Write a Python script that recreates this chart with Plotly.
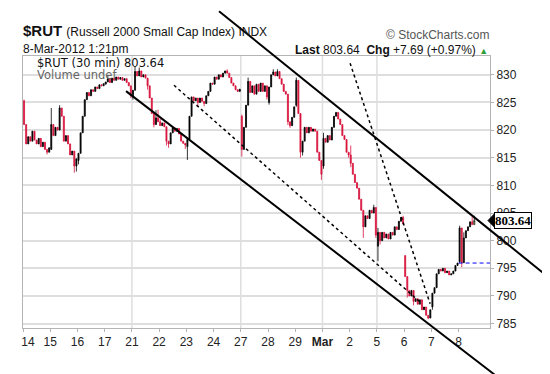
import plotly.graph_objects as go

# ---------------- data (30-minute bars) ----------------
day_labels = ["14", "15", "16", "17", "21", "22", "23", "24", "27", "28",
              "29", "Mar", "2", "5", "6", "7", "8"]
bars_per_day = 13

day_opens = [825.3, 816.5, 814.5, 828.3, 826.0, 821.5, 817.0, 828.3, 822.5,
             825.0, 824.5, 813.5, 815.5, 799.0, 797.3, 788.0, 796.2]

day_closes = [
    [821.0, 817.5, 818.8, 818.0, 819.8, 818.2, 817.5, 818.5, 817.0, 817.8, 816.5, 816.0, 816.8],  # Feb 14
    [821.0, 819.0, 820.5, 820.0, 824.0, 822.5, 818.0, 819.0, 817.5, 815.5, 816.2, 813.5, 814.8],  # Feb 15
    [815.8, 819.5, 822.5, 825.5, 826.8, 826.2, 827.3, 827.0, 827.8, 827.5, 828.2, 828.0, 828.4],  # Feb 16
    [828.7, 829.3, 828.6, 829.4, 829.0, 829.6, 829.2, 829.5, 829.0, 829.3, 828.6, 828.0, 826.2],  # Feb 17
    [827.2, 830.6, 829.8, 830.7, 829.6, 830.0, 829.4, 828.0, 825.8, 823.0, 821.0, 822.2, 821.5],  # Feb 21
    [820.8, 821.3, 820.6, 818.0, 817.5, 819.5, 820.4, 819.8, 820.3, 819.3, 818.0, 817.6, 817.3],  # Feb 22
    [818.3, 822.5, 826.0, 825.3, 825.8, 825.0, 825.8, 825.2, 824.8, 826.2, 827.0, 828.5, 828.3],  # Feb 23
    [829.6, 829.2, 830.0, 829.6, 830.3, 830.7, 830.3, 829.5, 828.5, 828.0, 827.3, 827.0, 827.4],  # Feb 24
    [816.5, 820.5, 824.5, 828.8, 826.8, 828.0, 826.5, 828.3, 827.0, 828.5, 827.0, 828.0, 826.0],  # Feb 27
    [827.8, 830.0, 830.5, 829.8, 830.6, 829.3, 828.3, 827.0, 826.5, 821.5, 820.8, 822.3, 824.2],  # Feb 28
    [829.0, 823.0, 816.0, 818.0, 820.5, 819.5, 820.5, 819.8, 820.2, 819.8, 816.0, 814.5, 812.0],  # Feb 29
    [818.5, 817.8, 819.0, 818.2, 820.5, 822.5, 823.2, 822.0, 821.0, 819.0, 818.3, 816.0, 815.5],  # Mar 1
    [814.0, 812.0, 810.5, 809.5, 807.5, 805.5, 802.5, 804.5, 804.0, 805.5, 805.0, 806.0, 801.0],  # Mar 2
    [801.5, 800.0, 801.5, 800.5, 801.2, 800.3, 801.5, 801.0, 802.5, 802.0, 803.5, 804.2, 803.0],  # Mar 5
    [793.5, 791.0, 790.0, 791.0, 789.0, 789.5, 788.5, 789.3, 787.5, 788.0, 786.5, 786.0, 787.5],  # Mar 6
    [790.5, 791.5, 794.0, 794.8, 794.5, 795.0, 794.2, 794.5, 793.8, 794.0, 794.5, 795.5, 795.95], # Mar 7
    [802.3, 796.0, 800.5, 801.8, 802.5, 803.4, 802.9, 803.64],                                    # Mar 8
]

# wick extremes that reach beyond the bodies: (day, bar) -> price
wick_highs = {(0, 0): 825.5, (1, 0): 824.0, (1, 4): 824.5, (3, 1): 829.8,
              (4, 1): 831.5, (4, 3): 831.3, (4, 11): 823.6, (4, 12): 823.7,
              (5, 0): 822.0, (6, 0): 818.6, (7, 6): 831.0, (8, 0): 822.8,
              (8, 3): 829.5, (9, 2): 831.0, (9, 4): 831.0, (10, 0): 829.5,
              (11, 0): 819.5, (12, 0): 817.2, (12, 11): 806.5, (13, 0): 802.3,
              (13, 12): 804.5, (16, 0): 802.7, (16, 2): 801.5, (16, 6): 804.4,
              (16, 7): 804.5}
wick_lows = {(0, 11): 815.6, (1, 11): 812.3, (1, 12): 812.5, (2, 0): 813.8,
             (3, 12): 825.8, (4, 0): 825.5, (4, 7): 827.3, (4, 10): 820.5,
             (5, 3): 817.2, (5, 4): 816.8, (5, 12): 816.6, (6, 0): 814.6,
             (6, 5): 824.4, (6, 8): 824.3, (8, 0): 815.2, (8, 12): 825.5,
             (9, 0): 824.6, (9, 9): 820.9, (9, 10): 820.4, (10, 0): 824.2,
             (10, 2): 815.0, (10, 3): 815.4, (10, 12): 811.0, (11, 0): 813.0,
             (11, 12): 815.0, (12, 0): 813.3, (12, 6): 800.5, (12, 12): 800.5,
             (13, 0): 796.3, (13, 1): 799.3, (14, 1): 789.7, (14, 4): 788.3,
             (14, 11): 785.8, (15, 0): 787.5, (16, 0): 795.9, (16, 1): 795.2}

previous_close = 795.95
last_price = 803.64
y_ticks = [785, 790, 795, 800, 805, 810, 815, 820, 825, 830]
week_start_days = [4, 8, 11, 13]          # 21, 27, Mar, 5

# hand-drawn trend lines: (bar index, price) end points
channel_upper = [(93.1, 841.5), (250.7, 793.3)]
channel_lower = [(48.7, 827.05), (226.3, 775.3)]
dotted_a = [(71.6, 828.1), (189.1, 788.9)]
dotted_b = [(155.7, 832.1), (193.9, 788.6)]

# ---------------- build bar arrays ----------------
xs, op, hi, lo, cl = [], [], [], [], []
i = 0
for d, closes in enumerate(day_closes):
    prev = day_opens[d]
    for b, c in enumerate(closes):
        o = prev
        h = max(o, c, wick_highs.get((d, b), -1e9))
        l = min(o, c, wick_lows.get((d, b), 1e9))
        xs.append(i); op.append(o); hi.append(h); lo.append(l); cl.append(c)
        prev = c
        i += 1

X0, X1 = -0.5, 222.5
Y0, Y1 = 784.2, 833.4

def to_paper(pt):
    return ((pt[0] - X0) / (X1 - X0), (pt[1] - Y0) / (Y1 - Y0))

RED = "#d8133c"
fig = go.Figure()
fig.add_trace(go.Candlestick(
    x=xs[:-1], open=op[:-1], high=hi[:-1], low=lo[:-1], close=cl[:-1],
    increasing=dict(line=dict(color="#000000", width=0.8), fillcolor="#000000"),
    decreasing=dict(line=dict(color=RED, width=0.8), fillcolor=RED),
    whiskerwidth=0, showlegend=False, hoverinfo="skip"))
fig.add_trace(go.Candlestick(
    x=xs[-1:], open=op[-1:], high=hi[-1:], low=lo[-1:], close=cl[-1:],
    increasing=dict(line=dict(color="#333333", width=1), fillcolor="#ffff33"),
    decreasing=dict(line=dict(color="#333333", width=1), fillcolor="#ffff33"),
    whiskerwidth=0, showlegend=False, hoverinfo="skip"))

shapes = []
for d in week_start_days:
    xv = d * bars_per_day - 0.5
    shapes.append(dict(type="line", xref="x", yref="paper", x0=xv, x1=xv, y0=0, y1=1,
                       line=dict(color="#dedede", width=1.5), layer="below"))
# previous close
mar8_start = (len(day_closes) - 1) * bars_per_day - 0.5
shapes.append(dict(type="line", xref="x", yref="y", x0=mar8_start, x1=X1,
                   y0=previous_close, y1=previous_close,
                   line=dict(color="#0000ff", width=1, dash="4px,3px")))
for ln, w, dash in [(channel_upper, 2, "solid"), (channel_lower, 2, "solid"),
                    (dotted_a, 1.5, "dot"), (dotted_b, 1.5, "dot")]:
    (ax0, ay0), (ax1, ay1) = to_paper(ln[0]), to_paper(ln[1])
    shapes.append(dict(type="line", xref="paper", yref="paper",
                       x0=ax0, y0=ay0, x1=ax1, y1=ay1,
                       line=dict(color="#000000", width=w, dash=dash)))
# price tag pointer
shapes.append(dict(type="path", xref="paper", yref="y",
                   path=f"M 0.9957 {last_price} L 1.0090 {last_price + 1.15} "
                        f"L 1.0090 {last_price - 1.15} Z",
                   fillcolor="#000000", line=dict(color="#000000", width=1)))

SANS = "Liberation Sans, Arial, sans-serif"
ann = [
    dict(text="<b>$RUT</b> <span style='font-size:12px'>(Russell 2000 Small Cap Index) INDX</span>",
         x=0, y=1.095, xanchor="left", yanchor="middle", xshift=-2,
         font=dict(family=SANS, size=15, color="#111")),
    dict(text="8-Mar-2012 1:21pm", x=0, y=1.026, xanchor="left", yanchor="middle", xshift=-2,
         font=dict(family=SANS, size=12, color="#111")),
    dict(text="© StockCharts.com", x=1, y=1.078, xanchor="right", yanchor="middle", xshift=2,
         font=dict(family=SANS, size=12, color="#555")),
    dict(text="<b>Last</b> 803.64  <b>Chg</b> +7.69 (+0.97%) <span style='color:#2e9e3a;font-size:9px'>▲</span>",
         x=1, y=1.022, xanchor="right", yanchor="middle", xshift=0,
         font=dict(family=SANS, size=12, color="#111")),
    dict(text="$RUT (30 min) 803.64", x=(27 - 15) / 467, y=(320 - 55) / 272,
         xanchor="left", yanchor="middle",
         font=dict(family="DejaVu Sans, sans-serif", size=11.5, color="#111")),
    dict(text="Volume undef", x=(27 - 15) / 467, y=(320 - 67) / 272,
         xanchor="left", yanchor="middle",
         font=dict(family="DejaVu Sans, sans-serif", size=11.5, color="#666")),
    dict(text="<b>803.64</b>", x=1.0090, y=last_price, xref="paper", yref="y",
         xanchor="left", yanchor="middle", showarrow=False,
         bgcolor="#ffffff", bordercolor="#000000", borderwidth=1, borderpad=0,
         font=dict(family="Liberation Serif, serif", size=13, color="#000")),
]
for a in ann:
    a.setdefault("xref", "paper")
    a.setdefault("yref", "paper")
    a["showarrow"] = False

ticktext = []
for k, lab in enumerate(day_labels):
    if lab == "Mar":
        ticktext.append("<b>Mar</b>")
    elif k == 0:
        ticktext.append("\u00a0\u00a0\u00a0" + lab)
    else:
        ticktext.append(lab)

fig.update_layout(
    width=550, height=374,
    margin=dict(l=15, r=68, t=48, b=54, autoexpand=False),
    paper_bgcolor="#ffffff", plot_bgcolor="#ffffff",
    shapes=shapes, annotations=ann,
    xaxis=dict(range=[X0, X1], tickmode="array",
               tickvals=[d * bars_per_day - 0.5 for d in range(len(day_labels))],
               ticktext=ticktext, showgrid=False, zeroline=False,
               showline=True, linecolor="#b4b4b4", linewidth=1, mirror=True,
               ticks="outside", ticklen=3, tickcolor="#b4b4b4",
               tickfont=dict(family=SANS, size=12, color="#222"),
               rangeslider=dict(visible=False), fixedrange=True, automargin=False),
    yaxis=dict(range=[Y0, Y1], side="right", tickmode="array", tickvals=y_ticks,
               showgrid=True, gridcolor="#dedede", gridwidth=1.5, zeroline=False,
               showline=True, linecolor="#b4b4b4", linewidth=1, mirror=True,
               ticks="outside", ticklen=3, tickcolor="#b4b4b4",
               tickfont=dict(family=SANS, size=12, color="#222"), fixedrange=True,
               automargin=False),
    showlegend=False,
)

fig.write_html("out.html")
